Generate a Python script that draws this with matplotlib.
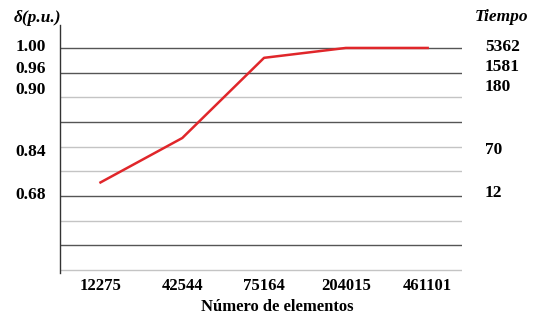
import matplotlib.pyplot as plt

# data (y in grid-line units, bottom line = 0)
elementos = ["12275", "42544", "75164", "204015", "461101"]
delta_pos = [3.55, 5.35, 8.6, 9.0, 9.0]

left_labels = ["1.00", "0.96", "0.90", "0.84", "0.68"]
left_pos = [9.12, 8.23, 7.38, 4.86, 3.12]
right_labels = ["5362", "1581", "180", "70", "12"]
right_pos = [9.12, 8.3, 7.5, 4.94, 3.2]

grid_levels = list(range(10))
grid_dark = [9, 8, 6, 3, 1]

plt.rcParams['font.family'] = ['Liberation Serif', 'DejaVu Serif']

W, H = 551, 327
fig = plt.figure(figsize=(W / 100, H / 100), dpi=100)
ax = fig.add_axes([60 / W, (H - 273) / H, 402 / W, 248 / H])

x = list(range(len(elementos)))
for lv in grid_levels:
    c = '#555555' if lv in grid_dark else '#c4c4c4'
    ax.axhline(lv, color=c, lw=1.0, zorder=1)
ax.plot(x, delta_pos, color='#e0262a', lw=1.8, zorder=3)

ax.set_xlim(-0.495, 4.42)
ax.set_ylim(-0.12, 9.93)
for s in ['top', 'right', 'bottom']:
    ax.spines[s].set_visible(False)
ax.spines['left'].set_color('#333333')
ax.spines['left'].set_linewidth(1.0)

ax.set_xticks(x, elementos, fontsize=12, fontweight='bold')
ax.tick_params(axis='x', length=0, pad=3.5)
ax.set_yticks(left_pos, left_labels, fontsize=12.5, fontweight='bold')
ax.tick_params(axis='y', length=0, pad=10)
ax.set_xlabel("Número de elementos", fontsize=12, fontweight='bold', labelpad=4)
ax.xaxis.label.set_x((277 - 60) / 402)

ax2 = ax.twinx()
ax2.set_ylim(ax.get_ylim())
ax2.set_yticks(right_pos, right_labels, fontsize=12.5, fontweight='bold')
ax2.tick_params(axis='y', length=0, pad=16.5)
for s in ax2.spines.values():
    s.set_visible(False)

fig.text(14 / W, 1 - 18 / H, "δ(p.u.)", fontsize=12.5, fontstyle='italic',
         fontweight='bold', va='center', ha='left')
fig.text(475 / W, 1 - 17 / H, "Tiempo", fontsize=12.5, fontstyle='italic',
         fontweight='bold', va='center', ha='left')

fig.savefig("out.png", dpi=100)
